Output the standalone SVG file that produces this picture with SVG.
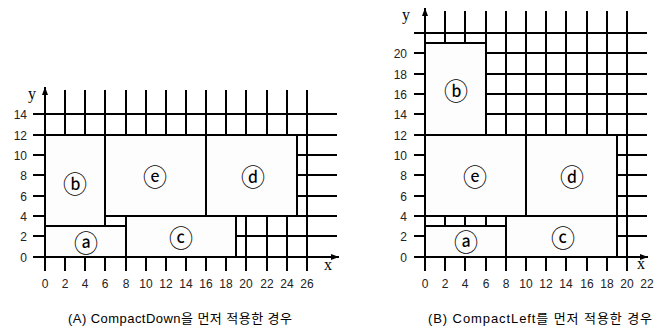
<svg xmlns="http://www.w3.org/2000/svg" width="657" height="328" viewBox="0 0 657 328">
<defs>
<marker id="ah" viewBox="0 0 8 6" refX="8" refY="3" markerWidth="8" markerHeight="6" markerUnits="userSpaceOnUse" orient="auto">
<path d="M0,0 L8,3 L0,6 Z" fill="#000"/>
</marker>
<style>
.g{stroke:#000;stroke-width:2;fill:none}
.ax{stroke:#000;stroke-width:2;fill:none;marker-end:url(#ah)}
.r{fill:#fdfdfd;stroke:#000;stroke-width:2}
.t{font-family:"Liberation Sans","Noto Sans CJK KR",sans-serif;font-size:12px;fill:#222}
.ty{text-anchor:end}
.tx{text-anchor:middle}
.xy{font-family:"Liberation Serif",serif;font-size:16px;fill:#000;text-anchor:middle}
.c{font-family:"Noto Sans CJK KR",sans-serif;font-size:24px;fill:#000;text-anchor:middle}
.cap{font-family:"Liberation Sans","Noto Sans CJK KR",sans-serif;font-size:13px;fill:#000}
</style>
</defs>
<rect width="657" height="328" fill="#fff"/>
<g id="connectors">
<g id="gridA">
<path class="g" d="M33,236H337M33,216H337M33,196H337M33,175H337M33,155H337M33,135H337M33,114H337"/>
<path class="g" d="M65,90V271M85,90V271M105,90V271M126,90V271M146,90V271M166,90V271M186,90V271M206,90V271M226,90V271M246,90V271M267,90V271M287,90V271M307,90V271"/>
<line class="ax" x1="33" y1="257" x2="339" y2="257"/>
<line class="ax" x1="45" y1="271" x2="45" y2="87"/>
</g>
<g id="gridB">
<path class="g" d="M414,236H647M414,216H647M414,196H647M414,175H647M414,155H647M414,135H647M414,114H647M414,94H647M414,74H647M414,53H647M414,33H647"/>
<path class="g" d="M445,11V271M465,11V271M486,11V271M506,11V271M526,11V271M546,11V271M566,11V271M587,11V271M607,11V271M627,11V271"/>
<line class="ax" x1="414" y1="257" x2="648" y2="257"/>
<line class="ax" x1="425" y1="271" x2="425" y2="8"/>
</g>
</g>
<g id="A-a"><rect class="r" x="45" y="226" width="81" height="31"/><text class="c" x="86" y="252">ⓐ</text></g>
<g id="A-b"><rect class="r" x="45" y="135" width="60" height="91"/><text class="c" x="75" y="193">ⓑ</text></g>
<g id="A-e"><rect class="r" x="105" y="135" width="101" height="81"/><text class="c" x="155" y="186">ⓔ</text></g>
<g id="A-d"><rect class="r" x="206" y="135" width="91" height="81"/><text class="c" x="253" y="186">ⓓ</text></g>
<g id="A-c"><rect class="r" x="126" y="216" width="110" height="41"/><text class="c" x="181" y="247">ⓒ</text></g>
<g id="B-a"><rect class="r" x="425" y="226" width="81" height="31"/><text class="c" x="466" y="251">ⓐ</text></g>
<g id="B-c"><rect class="r" x="506" y="216" width="111" height="41"/><text class="c" x="563" y="247">ⓒ</text></g>
<g id="B-e"><rect class="r" x="425" y="135" width="101" height="81"/><text class="c" x="475" y="186">ⓔ</text></g>
<g id="B-d"><rect class="r" x="526" y="135" width="91" height="81"/><text class="c" x="572" y="186">ⓓ</text></g>
<g id="B-b"><rect class="r" x="425" y="43" width="61" height="92"/><text class="c" x="456" y="100">ⓑ</text></g>
<g id="labelsA">
<text class="t ty" x="27" y="261.5">0</text><text class="t ty" x="27" y="240.5">2</text><text class="t ty" x="27" y="220.5">4</text><text class="t ty" x="27" y="200.5">6</text><text class="t ty" x="27" y="179.5">8</text><text class="t ty" x="27" y="159.5">10</text><text class="t ty" x="27" y="139.5">12</text><text class="t ty" x="27" y="118.5">14</text>
<text class="t tx" x="45" y="288">0</text><text class="t tx" x="65" y="288">2</text><text class="t tx" x="85" y="288">4</text><text class="t tx" x="105" y="288">6</text><text class="t tx" x="126" y="288">8</text><text class="t tx" x="146" y="288">10</text><text class="t tx" x="166" y="288">12</text><text class="t tx" x="186" y="288">14</text><text class="t tx" x="206" y="288">16</text><text class="t tx" x="226" y="288">18</text><text class="t tx" x="246" y="288">20</text><text class="t tx" x="267" y="288">22</text><text class="t tx" x="287" y="288">24</text><text class="t tx" x="307" y="288">26</text>
<text class="xy" x="32" y="99">y</text><text class="xy" x="328" y="270">x</text>
<text class="cap" x="68" y="323" textLength="224" lengthAdjust="spacing">(A) CompactDown을 먼저 적용한 경우</text>
</g>
<g id="labelsB">
<text class="t ty" x="407" y="261.5">0</text><text class="t ty" x="407" y="240.5">2</text><text class="t ty" x="407" y="220.5">4</text><text class="t ty" x="407" y="200.5">6</text><text class="t ty" x="407" y="179.5">8</text><text class="t ty" x="407" y="159.5">10</text><text class="t ty" x="407" y="139.5">12</text><text class="t ty" x="407" y="118.5">14</text><text class="t ty" x="407" y="98.5">16</text><text class="t ty" x="407" y="78.5">18</text><text class="t ty" x="407" y="57.5">20</text>
<text class="t tx" x="425" y="288">0</text><text class="t tx" x="445" y="288">2</text><text class="t tx" x="465" y="288">4</text><text class="t tx" x="486" y="288">6</text><text class="t tx" x="506" y="288">8</text><text class="t tx" x="526" y="288">10</text><text class="t tx" x="546" y="288">12</text><text class="t tx" x="566" y="288">14</text><text class="t tx" x="587" y="288">16</text><text class="t tx" x="607" y="288">18</text><text class="t tx" x="627" y="288">20</text><text class="t tx" x="647" y="288">22</text>
<text class="xy" x="406" y="20">y</text><text class="xy" x="641" y="269">x</text>
<text class="cap" x="428" y="323" textLength="224" lengthAdjust="spacing">(B) CompactLeft를 먼저 적용한 경우</text>
</g>
</svg>
